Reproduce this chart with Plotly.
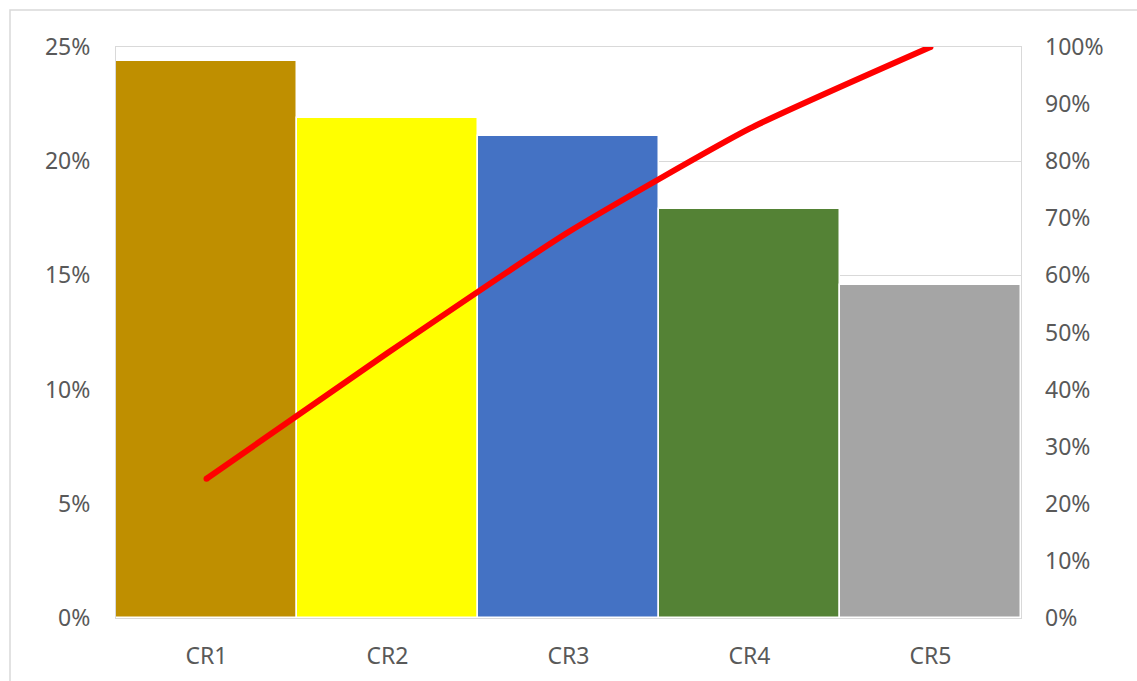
import plotly.graph_objects as go

categories = ["CR1", "CR2", "CR3", "CR4", "CR5"]
share = [0.244, 0.219, 0.211, 0.179, 0.146]
cumulative = [0.244, 0.464, 0.676, 0.857, 1.0]
bar_colors = ["#BF8F00", "#FFFF00", "#4472C4", "#548235", "#A5A5A5"]

W, H = 1137, 681
ml, mr, mt, mb = 116, 116, 47, 63
pw, ph = W - ml - mr, H - mt - mb

fig = go.Figure()
fig.add_trace(go.Bar(
    x=categories, y=share,
    marker=dict(color=bar_colors, line=dict(color="white", width=1.5)),
    showlegend=False, hoverinfo="x+y",
))
fig.add_trace(go.Scatter(
    x=categories, y=cumulative, yaxis="y2",
    mode="lines",
    line=dict(color="#FF0000", width=6, shape="spline", smoothing=0.5),
    showlegend=False,
))
# round caps at ends
fig.add_trace(go.Scatter(
    x=[categories[0], categories[-1]], y=[cumulative[0], cumulative[-1]], yaxis="y2",
    mode="markers", marker=dict(color="#FF0000", size=6),
    showlegend=False, hoverinfo="skip",
))

font = dict(family="Noto Sans, Open Sans, sans-serif", size=23, color="#595959")

fig.update_layout(
    width=W, height=H,
    margin=dict(l=ml, r=mr, t=mt, b=mb, autoexpand=False),
    paper_bgcolor="white", plot_bgcolor="white",
    bargap=0,
    font=font,
    xaxis=dict(
        showgrid=False, showline=True, linecolor="#d9d9d9", linewidth=1,
        mirror=True, ticks="", tickfont=font, ticklabelstandoff=17,
        automargin=False,
    ),
    yaxis=dict(
        range=[0, 0.25], dtick=0.05, tickformat=".0%",
        showgrid=True, gridcolor="#d9d9d9", gridwidth=1,
        showline=True, linecolor="#d9d9d9", linewidth=1, mirror=True,
        zeroline=False, ticks="", tickfont=font, ticklabelstandoff=20,
        automargin=False,
    ),
    yaxis2=dict(
        range=[0, 1.0], dtick=0.1, tickformat=".0%",
        overlaying="y", side="right", showgrid=False,
        zeroline=False, ticks="", tickfont=font, ticklabelstandoff=23,
        showline=False, automargin=False,
    ),
    shapes=[dict(
        type="rect", xref="paper", yref="paper",
        x0=(10 - ml) / pw, x1=(W + 20 - ml) / pw,
        y0=(H - mb - (H + 20)) / ph, y1=(H - mb - 10) / ph,
        line=dict(color="#d9d9d9", width=1.5), fillcolor="rgba(0,0,0,0)",
        layer="above",
    )],
)

fig.write_html("out.html")
